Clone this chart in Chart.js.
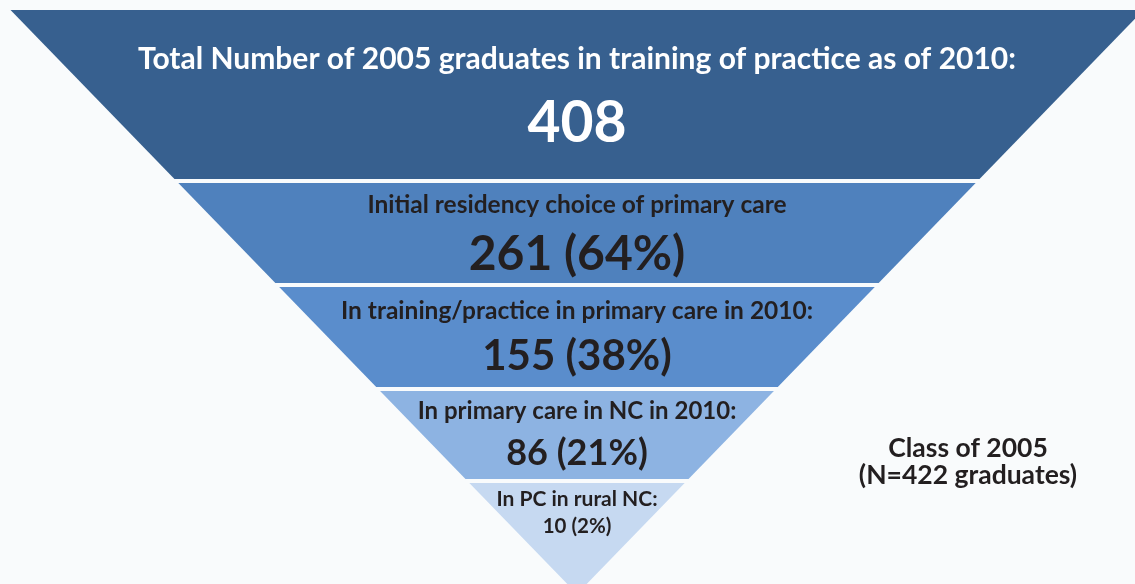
<!DOCTYPE html>
<html>
<head>
<meta charset="utf-8">
<script src="https://cdn.jsdelivr.net/npm/chart.js@4.4.0/dist/chart.umd.min.js"></script>
<style>
html,body{margin:0;padding:0;background:#f9fbfc;}
#wrap{width:1135px;height:584px;position:relative;}
</style>
</head>
<body>
<div id="wrap"><canvas id="funnel"></canvas></div>
<script>

/* DATA */

const stageLabels=[
"Total Number of 2005 graduates in training of practice as of 2010:",
"Initial residency choice of primary care",
"In training/practice in primary care in 2010:",
"In primary care in NC in 2010:",
"In PC in rural NC:"
];
const stageCounts=[408,261,155,86,10];
const stagePercents=[null,64,38,21,2];
const classNote=["Class of 2005","(N=422 graduates)"];

/* LAYOUT */

const bandColors=["#37608f","#4f81bd","#5a8dcc","#8db3e2","#c6d9f1"];
const textColors=["#ffffff","#231f20","#231f20","#231f20","#231f20"];
const bandEdges=[[10,179],[183,283],[287,387],[391,479],[483,594]];
const centerX=577, apexY=594, slope=0.97;
const labelFont=[30,24.5,24.5,24,21];
const valueFont=[57,48,42,36,20.5];
const labelBase=[69,213,319,419,506];
const valueBase=[142,270,370,465,533];

const halfW=y=>slope*(apexY-y);

const datasets=bandEdges.map((e,i)=>{
const t=e[0],b=e[1];
return{
data:[
{x:centerX-halfW(t),y:t},
{x:centerX+halfW(t),y:t},
{x:centerX+halfW(b),y:b},
{x:centerX-halfW(b),y:b},
{x:centerX-halfW(t),y:t}
],
showLine:true,
fill:"shape",
backgroundColor:bandColors[i],
borderColor:"transparent",
borderWidth:0,
pointRadius:0,
tension:0
};
});

/* TEXT */

const funnelText={
id:"funnelText",
afterDatasetsDraw(chart){
const ctx=chart.ctx;
const sx=chart.scales.x, sy=chart.scales.y;
ctx.save();
ctx.textAlign="center";
ctx.textBaseline="alphabetic";
stageLabels.forEach((lab,i)=>{
const x=sx.getPixelForValue(centerX);
ctx.fillStyle=textColors[i];
ctx.font="bold "+labelFont[i]+"px Lato";
ctx.fillText(lab,x,sy.getPixelForValue(labelBase[i]));
const val=stageCounts[i]+(stagePercents[i]!=null?" ("+stagePercents[i]+"%)":"");
ctx.font="bold "+valueFont[i]+"px Lato";
ctx.fillText(val,x,sy.getPixelForValue(valueBase[i]));
});
ctx.fillStyle="#231f20";
ctx.font="bold 26.5px Lato";
ctx.fillText(classNote[0],sx.getPixelForValue(968),sy.getPixelForValue(457));
ctx.fillText(classNote[1],sx.getPixelForValue(968),sy.getPixelForValue(484));
ctx.restore();
}
};

new Chart(document.getElementById("funnel"),{
type:"scatter",
data:{datasets:datasets},
options:{
responsive:true,
maintainAspectRatio:false,
animation:false,
layout:{padding:0},
scales:{
x:{type:"linear",min:0,max:1135,display:false},
y:{type:"linear",min:0,max:584,reverse:true,display:false}
},
plugins:{legend:{display:false},tooltip:{enabled:false}}
},
plugins:[funnelText]
});

</script>
</body>
</html>
